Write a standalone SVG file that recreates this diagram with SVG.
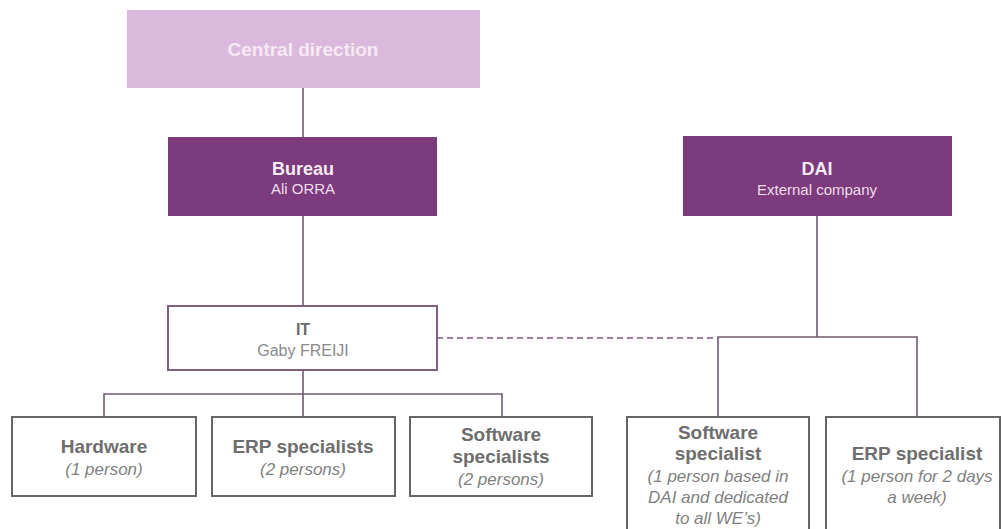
<svg xmlns="http://www.w3.org/2000/svg" width="1002" height="529" viewBox="0 0 1002 529">
  <style>
    text { font-family: "Liberation Sans", Arial, sans-serif; text-anchor: middle; }
    .top { fill: #dbb9dc; }
    .head { fill: #7b3b7d; }
    .it { fill: #ffffff; stroke: #7e5f80; stroke-width: 2; }
    .unit { fill: #ffffff; stroke: #666666; stroke-width: 2; }
    .t-top { font-size: 19px; font-weight: bold; fill: #f6e9f4; }
    .t-head { font-size: 18px; font-weight: bold; fill: #f7ecf5; }
    .s-head { font-size: 15px; fill: #f0dcec; }
    .t-it { font-size: 16px; font-weight: bold; fill: #6b6b6b; }
    .s-it { font-size: 16px; fill: #8a8a8a; }
    .t-unit { font-size: 19px; font-weight: bold; fill: #6e6e6e; }
    .s-unit { font-size: 17px; font-style: italic; fill: #7f7f7f; }
    .link { fill: none; stroke: #6f5c70; stroke-width: 1.6; }
    .dash { fill: none; stroke: #7a5a7c; stroke-width: 1.6; stroke-dasharray: 6 4; }
  </style>
  <rect width="1002" height="529" fill="#ffffff"/>

  <!-- connectors -->
  <g id="connectors">
    <path class="link" d="M303 88 V137"/>
    <path class="link" d="M303 216 V306"/>
    <path class="link" d="M303 370 V394 M104 417 V394 H502 V417 M303 394 V417"/>
    <path class="link" d="M817 216 V337 M718 417 V337 H917 V417"/>
    <path class="dash" d="M437 338 H718"/>
  </g>

  <g id="central-direction">
    <rect class="top" x="127" y="10" width="353" height="78"/>
    <text class="t-top" x="303" y="56">Central direction</text>
  </g>

  <g id="bureau">
    <rect class="head" x="168" y="137" width="269" height="79"/>
    <text class="t-head" x="303" y="175">Bureau</text>
    <text class="s-head" x="303" y="194">Ali ORRA</text>
  </g>

  <g id="dai">
    <rect class="head" x="683" y="136" width="269" height="80"/>
    <text class="t-head" x="817" y="175">DAI</text>
    <text class="s-head" x="817" y="195">External company</text>
  </g>

  <g id="it">
    <rect class="it" x="168" y="306" width="269" height="64"/>
    <text class="t-it" x="303" y="335">IT</text>
    <text class="s-it" x="303" y="356">Gaby FREIJI</text>
  </g>

  <g id="hardware">
    <rect class="unit" x="12" y="417" width="184" height="79"/>
    <text class="t-unit" x="104" y="453">Hardware</text>
    <text class="s-unit" x="104" y="475">(1 person)</text>
  </g>

  <g id="erp-specialists">
    <rect class="unit" x="212" y="417" width="183" height="79"/>
    <text class="t-unit" x="303" y="453">ERP specialists</text>
    <text class="s-unit" x="303" y="475">(2 persons)</text>
  </g>

  <g id="software-specialists">
    <rect class="unit" x="410" y="417" width="182" height="79"/>
    <text class="t-unit" x="501" y="441">Software</text>
    <text class="t-unit" x="501" y="463">specialists</text>
    <text class="s-unit" x="501" y="485">(2 persons)</text>
  </g>

  <g id="software-specialist-dai">
    <rect class="unit" x="627" y="417" width="182" height="130"/>
    <text class="t-unit" x="718" y="439">Software</text>
    <text class="t-unit" x="718" y="460">specialist</text>
    <text class="s-unit" x="718" y="482">(1 person based in</text>
    <text class="s-unit" x="718" y="503">DAI and dedicated</text>
    <text class="s-unit" x="718" y="524">to all WE’s)</text>
  </g>

  <g id="erp-specialist-dai">
    <rect class="unit" x="826" y="417" width="174" height="130"/>
    <text class="t-unit" x="917" y="460">ERP specialist</text>
    <text class="s-unit" x="917" y="482">(1 person for 2 days</text>
    <text class="s-unit" x="917" y="503">a week)</text>
  </g>
</svg>
